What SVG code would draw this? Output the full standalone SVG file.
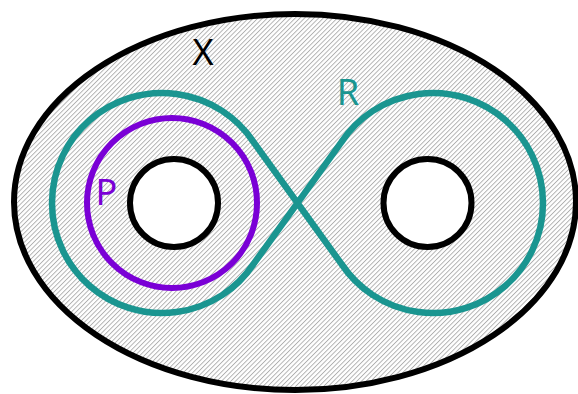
<svg xmlns="http://www.w3.org/2000/svg" width="578" height="394" viewBox="0 0 578 394">
<defs>
<pattern id="hatch" patternUnits="userSpaceOnUse" width="3.3" height="10" patternTransform="rotate(45)">
<line x1="0.5" y1="0" x2="0.5" y2="10" stroke="#9a9a9a" stroke-width="0.8"/>
</pattern>
</defs>
<style>
.lbl{font-family:"Noto Sans","Open Sans",sans-serif;font-size:36px;text-anchor:middle}
.hole{fill:#ffffff;stroke:#000000;stroke-width:6}
</style>
<rect width="578" height="394" fill="#ffffff"/>
<g id="X">
<ellipse cx="295" cy="202" rx="281" ry="188" fill="#ffffff"/>
<ellipse cx="295" cy="202" rx="281" ry="188" fill="url(#hatch)" stroke="#000000" stroke-width="6"/>
<text class="lbl" x="203" y="65" fill="#000000">X</text>
</g>
<g id="hole-left"><circle class="hole" cx="174" cy="203" r="44"/></g>
<g id="hole-right"><circle class="hole" cx="427.5" cy="203" r="44"/></g>
<g id="P">
<circle cx="172" cy="203" r="85" fill="none" stroke="#7a00d6" stroke-width="6"/>
<text class="lbl" x="106.5" y="205" fill="#7a00d6">P</text>
</g>
<g id="R">
<path d="M253.6,142.1 A110,110 0 1 0 253.6,263.9 L341.4,142.1 A110,110 0 1 1 341.4,263.9 Z" fill="none" stroke="#1a9590" stroke-width="6.5" stroke-linejoin="round"/>
<text class="lbl" x="348" y="105" fill="#1a9590">R</text>
</g>
<g id="connectors"></g>
</svg>
